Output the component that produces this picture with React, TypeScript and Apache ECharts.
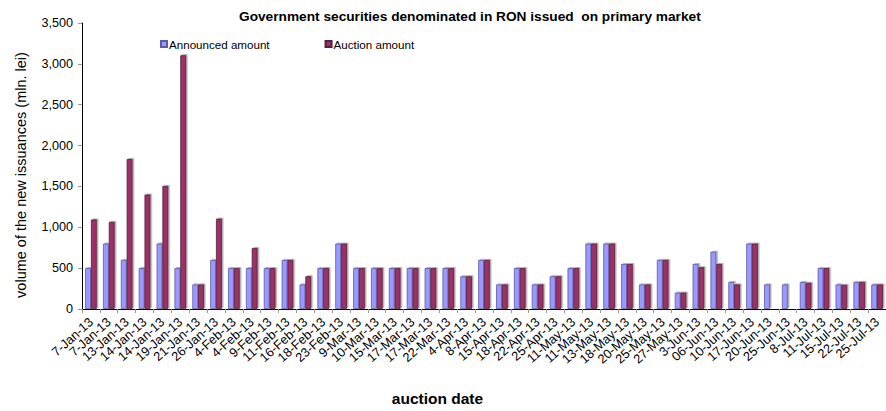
import React, { useEffect, useRef } from "react";
import * as echarts from "echarts";

// Auction dates (category axis)
const auctionDates: string[] = [
  "7-Jan-13", "7-Jan-13", "13-Jan-13", "14-Jan-13", "14-Jan-13", "19-Jan-13",
  "21-Jan-13", "26-Jan-13", "4-Feb-13", "4-Feb-13", "9-Feb-13", "11-Feb-13",
  "16-Feb-13", "18-Feb-13", "23-Feb-13", "9-Mar-13", "10-Mar-13", "15-Mar-13",
  "17-Mar-13", "17-Mar-13", "22-Mar-13", "4-Apr-13", "8-Apr-13", "15-Apr-13",
  "18-Apr-13", "22-Apr-13", "25-Apr-13", "11-May-13", "11-May-13", "13-May-13",
  "18-May-13", "20-May-13", "25-May-13", "27-May-13", "3-Jun-13", "06-Jun-13",
  "10-Jun-13", "17-Jun-13", "20-Jun-13", "25-Jun-13", "8-Jul-13", "11-Jul-13",
  "15-Jul-13", "22-Jul-13", "25-Jul-13",
];

// Amount announced for each auction (mln. lei)
const announcedAmount: number[] = [
  500, 800, 600, 500, 800, 500, 300, 600, 500, 500, 500, 600,
  300, 500, 800, 500, 500, 500, 500, 500, 500, 400, 600, 300,
  500, 300, 400, 500, 800, 800, 550, 300, 600, 200, 550, 700,
  330, 800, 300, 300, 330, 500, 300, 330, 300,
];

// Amount actually sold at each auction (mln. lei)
const auctionAmount: number[] = [
  1095, 1065, 1835, 1400, 1505, 3105, 300, 1105, 500, 745, 500, 600,
  400, 500, 800, 500, 500, 500, 500, 500, 500, 400, 600, 300,
  500, 300, 400, 500, 800, 800, 550, 300, 600, 200, 510, 550,
  300, 800, 0, 0, 320, 500, 295, 330, 300,
];

// Value axis ticks
const yTicks: number[] = [0, 500, 1000, 1500, 2000, 2500, 3000, 3500];

const FONT = "'Liberation Sans', Arial, sans-serif";

export default function App() {
  const ref = useRef<HTMLDivElement>(null);

  useEffect(() => {
    if (!ref.current) return;
    const chart = echarts.init(ref.current, undefined, { renderer: "svg" });

    const barShadow = {
      shadowColor: "rgba(0,0,0,0.35)",
      shadowBlur: 1,
      shadowOffsetX: 1.5,
      shadowOffsetY: -1,
    };

    chart.setOption({
      animation: false,
      backgroundColor: "#ffffff",
      textStyle: { fontFamily: FONT },
      title: {
        text: "Government securities denominated in RON issued  on primary market",
        left: 234,
        top: 4,
        textStyle: { fontFamily: FONT, fontSize: 13.7, fontWeight: "bold", color: "#000" },
      },
      legend: {
        left: 155,
        top: 33,
        itemWidth: 6,
        itemHeight: 6,
        itemGap: 55,
        icon: "rect",
        textStyle: { fontFamily: FONT, fontSize: 11.6, color: "#000", padding: [0, 0, 0, -3] },
        data: ["Announced amount", "Auction amount"],
      },
      grid: { left: 82, right: 0, top: 23, bottom: 99, containLabel: false },
      xAxis: {
        type: "category",
        data: auctionDates,
        name: "auction date",
        nameLocation: "middle",
        nameGap: 81,
        nameTextStyle: {
          fontFamily: FONT,
          fontSize: 15.5,
          fontWeight: "bold",
          color: "#000",
          padding: [0, 0, 0, -93],
        },
        axisLine: { lineStyle: { color: "#000", width: 1 } },
        axisTick: { show: true, length: 4, lineStyle: { color: "#999" } },
        axisLabel: {
          interval: 0,
          rotate: 42,
          fontFamily: FONT,
          fontSize: 12.8,
          color: "#000",
          margin: 11,
        },
      },
      yAxis: {
        type: "value",
        min: yTicks[0],
        max: yTicks[yTicks.length - 1],
        interval: 500,
        name: "volume of the new issuances (mln. lei)",
        nameLocation: "middle",
        nameGap: 54,
        nameTextStyle: {
          fontFamily: FONT,
          fontSize: 14.5,
          color: "#000",
          padding: [0, 0, 0, -18],
        },
        axisLine: { show: true, lineStyle: { color: "#000", width: 1 } },
        axisTick: { show: true, length: 4, lineStyle: { color: "#999" } },
        splitLine: { show: false },
        axisLabel: {
          fontFamily: FONT,
          fontSize: 12.6,
          color: "#000",
          margin: 9,
          formatter: (v: number) => v.toLocaleString("en-US"),
        },
      },
      series: [
        {
          name: "Announced amount",
          type: "bar",
          data: announcedAmount,
          barWidth: 5.8,
          barGap: "0%",
          itemStyle: { color: "#9999FF", borderColor: "#5b5ba8", borderWidth: 0.8, ...barShadow },
        },
        {
          name: "Auction amount",
          type: "bar",
          data: auctionAmount,
          barWidth: 5.8,
          barGap: "0%",
          itemStyle: { color: "#993366", borderColor: "#5e1c3c", borderWidth: 0.8, ...barShadow },
        },
      ],
    });

    return () => chart.dispose();
  }, []);

  return (
    <div
      ref={ref}
      style={{ position: "fixed", left: 0, top: 0, width: 886, height: 411, background: "#fff" }}
    />
  );
}
